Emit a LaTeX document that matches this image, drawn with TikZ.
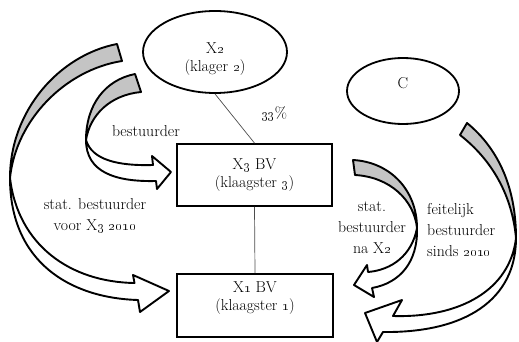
\documentclass[tikz,border=0pt]{standalone}
\usetikzlibrary{shapes.geometric}
\definecolor{bandgray}{RGB}{196,196,196}
\begin{document}
\begin{tikzpicture}[x=1pt,y=-1pt,
  font=\fontsize{15.8}{17.5}\selectfont,
  oval/.style={ellipse, draw, line width=1.8pt, inner sep=0pt},
  box/.style={rectangle, draw, line width=1.8pt, inner sep=0pt},
  lbl/.style={align=center, inner sep=0pt},
  freelbl/.style={inner sep=0pt, font=\fontsize{15.8}{21}\selectfont},
  conn/.style={line width=0.7pt, draw=black!70},
  back/.style={fill=bandgray, draw=black, line width=1.9pt, line join=round},
  front/.style={fill=white, draw=black, line width=1.9pt, line join=round},
]
\useasboundingbox (0,0) rectangle (519,342);

% nodes
\node[oval, minimum width=144pt, minimum height=82pt] (x2) at (215,52) {};
\node[lbl] (x2t) at (215,59) {X\oldstylenums{2}\\(klager \oldstylenums{2})};
\node[oval, minimum width=112pt, minimum height=66pt] (c) at (403,91) {};
\node[lbl] (ct) at (403,83) {C};
\node[box, minimum width=155pt, minimum height=62pt] (x3) at (254.5,175) {};
\node[lbl] (x3t) at (254.5,175) {X\oldstylenums{3} BV\\(klaagster \oldstylenums{3})};
\node[box, minimum width=156pt, minimum height=63pt] (x1) at (255,305.5) {};
\node[lbl] (x1t) at (255,298) {X\oldstylenums{1} BV\\(klaagster \oldstylenums{1})};

% connectors
\draw[conn] (x2.south) -- (x3.north);
\draw[conn] (x3.south) -- (x1.north);
\node[lbl] (pct) at (274,114) {\oldstylenums{33}\%};

% arrow A (bestuurder)
\draw[back] (135,74) .. controls (105,80) and (86,105) .. (86,140)
  .. controls (90,115) and (110,95) .. (141,92) -- cycle;
\draw[front] (86,140) .. controls (86,172) and (115,182) .. (156,181)
  -- (157,189) -- (171,172) -- (152,156) -- (153,165)
  .. controls (118,166) and (92,160) .. (86,140) -- cycle;

% arrow B (stat. bestuurder voor X3 2010)
\draw[back] (117,44) .. controls (60,55) and (10,110) .. (10,178)
  .. controls (16,120) and (65,70) .. (122,61) -- cycle;
\draw[front] (10,178) .. controls (10,262) and (70,298) .. (138,300)
  -- (140,312) -- (169,291) -- (133,275) -- (134.5,283)
  .. controls (70,282) and (18,245) .. (10,178) -- cycle;

% arrow C (stat. bestuurder na X2)
\draw[back] (353,160) .. controls (390,162) and (417,190) .. (417,228)
  .. controls (414,200) and (390,177) .. (355,175) -- cycle;
\draw[front] (417,228) .. controls (418,262) and (400,283) .. (372,288)
  -- (374,297) -- (354,285) -- (367,265) -- (368,272)
  .. controls (392,270) and (412,255) .. (417,228) -- cycle;

% arrow D (feitelijk bestuurder sinds 2010)
\draw[back] (467,123) .. controls (500,150) and (516,190) .. (516,238)
  .. controls (512,195) and (492,160) .. (460,135) -- cycle;
\draw[front] (516,238) .. controls (516,300) and (465,333) .. (383,332)
  -- (377,342) -- (365,313) -- (402,300) -- (393,316)
  .. controls (460,318) and (510,290) .. (516,238) -- cycle;

% labels
\node[freelbl] (lA) at (146,131) {bestuurder};
\node[freelbl, align=center] (lB) at (95,216) {stat. bestuurder\\voor X\oldstylenums{3} \oldstylenums{2010}};
\node[freelbl, align=center] (lC) at (372,228) {stat.\\bestuurder\\na X\oldstylenums{2}};
\node[freelbl, align=left, anchor=west] (lD) at (427,230) {feitelijk\\bestuurder\\sinds \oldstylenums{2010}};
\end{tikzpicture}
\end{document}
